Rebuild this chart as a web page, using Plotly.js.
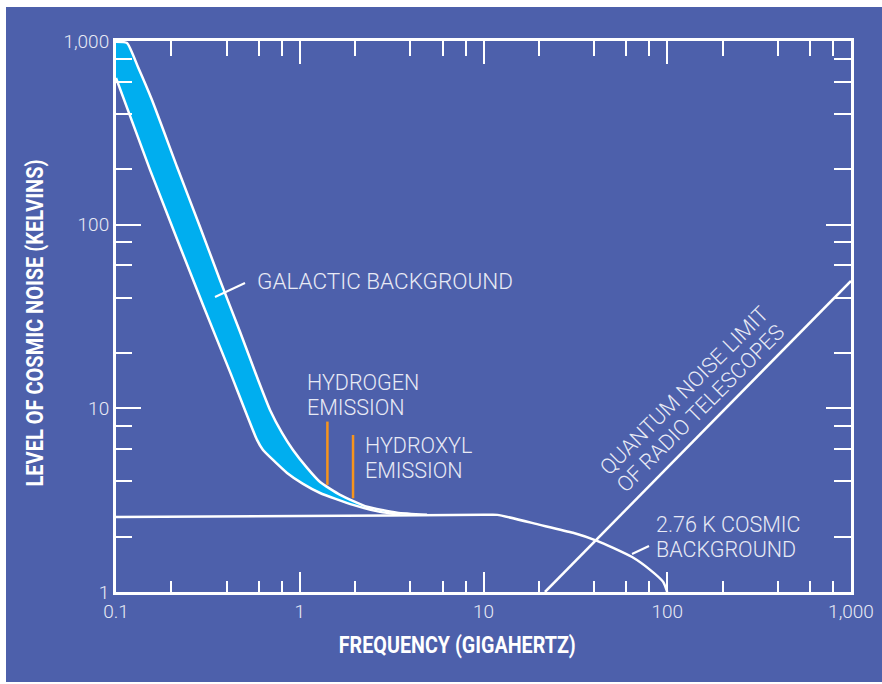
<!DOCTYPE html>
<html>
<head>
<meta charset="utf-8">
<script src="https://cdn.plot.ly/plotly-3.0.1.min.js"></script>
<style>html,body{margin:0;padding:0;background:#fff;}#chart{width:882px;height:684px;}</style>
</head>
<body>
<div id="chart"></div>
<script>
// ---- data ----
const galacticUpperX = [0.1, 0.1148, 0.1317, 0.157, 0.215, 0.2867, 0.3678, 0.473, 0.593, 0.689, 0.801, 0.919, 1.096, 1.29, 1.658, 2.325, 3.385, 4.93];
const galacticUpperY = [990, 975, 722, 477, 206, 97.2, 50.0, 26.1, 14.3, 9.80, 7.35, 5.93, 4.74, 3.97, 3.38, 2.91, 2.70, 2.63];
const galacticLowerX = [0.1, 0.1532, 0.2976, 0.4173, 0.5853, 0.631, 0.734, 0.853, 1.042, 1.29, 1.95, 2.736, 3.516];
const galacticLowerY = [629, 198.6, 36.5, 15.8, 6.73, 5.93, 5.11, 4.45, 3.88, 3.46, 2.98, 2.73, 2.63];
const cosmicX = [0.1, 1, 10, 11.9, 20.3, 30.7, 41.5, 50.8, 64.4, 80.7, 95.0, 100];
const cosmicY = [2.56, 2.59, 2.63, 2.63, 2.32, 2.10, 1.90, 1.74, 1.55, 1.32, 1.135, 1.0];
const quantumX = [21.6, 1000];
const quantumY = [1.0, 49.4];
const hydrogenX = [1.414, 1.414];
const hydrogenY = [8.47, 3.83];
const hydroxylX = [1.95, 1.95];
const hydroxylY = [7.16, 3.24];
const xTickVals = [0.1, 1, 10, 100, 1000];
const xTickText = ['0.1', '1', '10', '100', '1,000'];
const yTickVals = [1, 10, 100, 1000];
const yTickText = ['1', '10', '100', '1,000'];
const xMinorVals = [0.2, 0.4, 0.6, 0.8, 2, 4, 6, 8, 20, 40, 60, 80, 200, 400, 600, 800];
const yMinorVals = [2, 4, 6, 8, 20, 40, 60, 80, 200, 400, 600, 800];
const xTitle = 'FREQUENCY (GIGAHERTZ)';
const yTitle = 'LEVEL OF COSMIC NOISE (KELVINS)';

// ---- style ----
const BLUE = '#4d60ab';
const CYAN = '#00aeef';
const ORANGE = '#f7941d';
const WHITE = '#ffffff';
const LABEL = '#e8eaf5';
const LIGHT = 'Roboto, "Open Sans", sans-serif';
const BOLD = 'Roboto, "Liberation Sans", sans-serif';

const W = 882, H = 684;
const L = 116, R = 851, T = 41, B = 592;
const px = v => (v - L) / (R - L);
const py = v => (B - v) / (B - T);

const band = {
  x: galacticUpperX.concat(galacticLowerX.slice().reverse()),
  y: galacticUpperY.concat(galacticLowerY.slice().reverse()),
  type: 'scatter', mode: 'lines', fill: 'toself', fillcolor: CYAN,
  line: {width: 0, color: CYAN, shape: 'spline', smoothing: 0.5}, hoverinfo: 'skip', showlegend: false
};
const lineTrace = (x, y, color, width) => ({
  x, y, type: 'scatter', mode: 'lines', line: {color, width, shape: 'spline', smoothing: 0.5},
  hoverinfo: 'skip', showlegend: false
});
const straight = (x, y, color, width) => ({
  x, y, type: 'scatter', mode: 'lines', line: {color, width},
  hoverinfo: 'skip', showlegend: false
});

const data = [
  band,
  lineTrace(galacticUpperX, galacticUpperY, WHITE, 2.5),
  lineTrace(galacticLowerX, galacticLowerY, WHITE, 2.5),
  lineTrace(cosmicX, cosmicY, WHITE, 2.5),
  straight(quantumX, quantumY, WHITE, 2.5),
  straight(hydrogenX, hydrogenY, ORANGE, 2.5),
  straight(hydroxylX, hydroxylY, ORANGE, 2.5),
  {x: [], y: [], xaxis: 'x2', yaxis: 'y2', type: 'scatter', mode: 'lines', hoverinfo: 'skip', showlegend: false}
];

const ANN_SIZE = 22.5;
const ANN2_SIZE = 21.5;
const LINE_EM = 1.17;           // line spacing for the two-line labels
const tickFont = {family: LIGHT, size: 19, color: LABEL, weight: 300};
const annFont = {family: LIGHT, size: ANN_SIZE, color: LABEL, weight: 300};
const ann2Font = {family: LIGHT, size: ANN2_SIZE, color: LABEL, weight: 300};

const ann = (text, x, y, extra) => Object.assign({
  text, xref: 'paper', yref: 'paper', x: px(x), y: py(y), xanchor: 'left', yanchor: 'middle',
  align: 'left', showarrow: false, font: annFont
}, extra || {});
// two-line label: y1 is the centre of the first line; Plotly lays out with 1.3em, so shift the box
const ann2 = (text, x, y1) => ann(text, x, y1 + 0.65 * ANN2_SIZE, {font: ann2Font});

const layout = {
  width: W, height: H,
  margin: {l: L, r: W - R, t: T, b: H - B, pad: 0},
  paper_bgcolor: WHITE, plot_bgcolor: 'rgba(0,0,0,0)',
  showlegend: false,
  xaxis: {
    type: 'log', range: [-1, 3], fixedrange: true,
    showline: true, linecolor: WHITE, linewidth: 3, mirror: true,
    showgrid: false, zeroline: false,
    ticks: 'inside', tickmode: 'array', tickvals: xTickVals, ticktext: xTickText,
    ticklen: 20, tickwidth: 2, tickcolor: WHITE, tickfont: tickFont,
    minor: {tickmode: 'array', tickvals: xMinorVals, ticks: 'inside', ticklen: 11, tickwidth: 2, tickcolor: WHITE, showgrid: false}
  },
  yaxis: {
    type: 'log', range: [0, 3], fixedrange: true,
    showline: true, linecolor: WHITE, linewidth: 3, mirror: true,
    showgrid: false, zeroline: false,
    ticks: 'inside', tickmode: 'array', tickvals: yTickVals, ticktext: yTickText,
    ticklen: 25, tickwidth: 2, tickcolor: WHITE, tickfont: tickFont,
    minor: {tickmode: 'array', tickvals: yMinorVals, ticks: 'inside', ticklen: 16, tickwidth: 2, tickcolor: WHITE, showgrid: false}
  },
  xaxis2: {
    type: 'log', range: [-1, 3], overlaying: 'x', side: 'top', anchor: 'y2', fixedrange: true,
    showline: false, showgrid: false, zeroline: false, showticklabels: false,
    ticks: 'inside', tickmode: 'array', tickvals: xTickVals,
    ticklen: 23, tickwidth: 2, tickcolor: WHITE,
    minor: {tickmode: 'array', tickvals: xMinorVals, ticks: 'inside', ticklen: 15, tickwidth: 2, tickcolor: WHITE, showgrid: false}
  },
  yaxis2: {
    type: 'log', range: [0, 3], overlaying: 'y', side: 'right', anchor: 'x2', fixedrange: true,
    showline: false, showgrid: false, zeroline: false, showticklabels: false,
    ticks: 'inside', tickmode: 'array', tickvals: yTickVals,
    ticklen: 25, tickwidth: 2, tickcolor: WHITE,
    minor: {tickmode: 'array', tickvals: yMinorVals, ticks: 'inside', ticklen: 17, tickwidth: 2, tickcolor: WHITE, showgrid: false}
  },
  shapes: [
    {type: 'rect', xref: 'paper', yref: 'paper', x0: px(6), x1: px(882), y0: py(682), y1: py(7),
     fillcolor: BLUE, line: {width: 0}, layer: 'below'},
    {type: 'line', xref: 'paper', yref: 'paper', x0: px(215), y0: py(297), x1: px(245), y1: py(283),
     line: {color: WHITE, width: 2}},
    {type: 'line', xref: 'paper', yref: 'paper', x0: px(632), y0: py(554), x1: px(649), y1: py(546),
     line: {color: WHITE, width: 2}}
  ],
  annotations: [
    ann('GALACTIC BACKGROUND', 255, 281),
    ann2('HYDROGEN<br>EMISSION', 305, 383),
    ann2('HYDROXYL<br>EMISSION', 363, 446),
    ann2('2.76 K COSMIC<br>BACKGROUND', 654, 525),
    ann('QUANTUM NOISE LIMIT', 684, 390, {xanchor: 'center', textangle: -45, font: ann2Font}),
    ann('OF RADIO TELESCOPES', 700, 408, {xanchor: 'center', textangle: -45, font: ann2Font}),
    {text: xTitle, xref: 'paper', yref: 'paper', x: px(457.5), y: py(645),
     xanchor: 'center', yanchor: 'middle', showarrow: false,
     font: {family: BOLD, size: 23, color: WHITE, weight: 700}},
    {text: yTitle, xref: 'paper', yref: 'paper', x: px(35), y: py(323),
     xanchor: 'center', yanchor: 'middle', showarrow: false, textangle: -90,
     font: {family: BOLD, size: 23, color: WHITE, weight: 700}}
  ]
};

function finishText() {
  const fits = {};
  fits[xTitle] = 237;
  fits[yTitle] = 327;
  document.querySelectorAll('#chart text.annotation-text').forEach(t => {
    // condensed look for the bold axis titles (fit to the widths in the reference)
    const want = fits[t.textContent];
    if (want) {
      t.setAttribute('textLength', want);
      t.setAttribute('lengthAdjust', 'spacingAndGlyphs');
    }
    // tighter line spacing for two-line labels
    const lines = t.querySelectorAll('tspan.line');
    if (lines.length > 1) {
      lines.forEach((ln, i) => ln.setAttribute('dy', (i * LINE_EM) + 'em'));
    }
  });
}

Plotly.newPlot('chart', data, layout, {displayModeBar: false, staticPlot: true}).then(finishText);
</script>
</body>
</html>
